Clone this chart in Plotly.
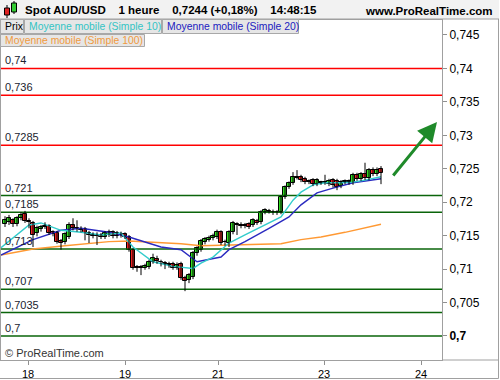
import plotly.graph_objects as go

# ---------------- data ----------------
opens = [0.7167,0.7170,0.7173,0.7167,0.7176,0.7182,0.7172,0.7169,0.7154,0.7160,
         0.7163,0.7164,0.7155,0.7154,0.7142,0.7140,0.7148,0.7166,0.7161,0.7158,
         0.7160,0.7154,0.7151,0.7150,0.7151,0.7148,0.7151,0.7155,0.7154,0.7152,
         0.7152,0.7148,0.7129,0.7102,0.7103,0.7102,0.7103,0.7111,0.7115,0.7111,
         0.7109,0.7108,0.7108,0.7102,0.7108,0.7087,0.7084,0.7088,0.7124,0.7129,
         0.7141,0.7144,0.7147,0.7148,0.7155,0.7141,0.7139,0.7155,0.7166,0.7166,
         0.7165,0.7167,0.7166,0.7172,0.7170,0.7185,0.7187,0.7186,0.7184,0.7185,
         0.7208,0.7223,0.7229,0.7238,0.7238,0.7235,0.7230,0.7233,0.7227,0.7229,
         0.7229,0.7227,0.7233,0.7232,0.7224,0.7230,0.7231,0.7229,0.7241,0.7235,
         0.7242,0.7236,0.7248,0.7242,0.7250]
highs = [0.7179,0.7181,0.7176,0.7179,0.7185,0.7187,0.7176,0.7172,0.7165,0.7166,
         0.7170,0.7167,0.7158,0.7157,0.7145,0.7155,0.7170,0.7176,0.7173,0.7164,
         0.7163,0.7157,0.7155,0.7155,0.7154,0.7157,0.7159,0.7158,0.7157,0.7156,
         0.7155,0.7151,0.7131,0.7106,0.7106,0.7108,0.7114,0.7123,0.7120,0.7114,
         0.7112,0.7111,0.7111,0.7110,0.7111,0.7090,0.7094,0.7127,0.7134,0.7145,
         0.7148,0.7150,0.7153,0.7159,0.7158,0.7144,0.7158,0.7172,0.7170,0.7170,
         0.7169,0.7170,0.7176,0.7175,0.7188,0.7191,0.7190,0.7189,0.7188,0.7210,
         0.7225,0.7231,0.7245,0.7248,0.7241,0.7238,0.7234,0.7236,0.7236,0.7232,
         0.7241,0.7235,0.7236,0.7235,0.7233,0.7234,0.7234,0.7244,0.7244,0.7245,
         0.7259,0.7251,0.7252,0.7252,0.7254]
lows = [0.7163,0.7166,0.7163,0.7164,0.7173,0.7169,0.7161,0.7133,0.7149,0.7156,
        0.7160,0.7151,0.7149,0.7138,0.7129,0.7137,0.7145,0.7158,0.7156,0.7155,
        0.7143,0.7139,0.7146,0.7136,0.7145,0.7145,0.7148,0.7146,0.7146,0.7147,
        0.7145,0.7126,0.7099,0.7096,0.7091,0.7099,0.7100,0.7108,0.7108,0.7104,
        0.7100,0.7102,0.7099,0.7099,0.7084,0.7067,0.7079,0.7085,0.7120,0.7126,
        0.7137,0.7141,0.7143,0.7145,0.7136,0.7135,0.7133,0.7152,0.7151,0.7161,
        0.7161,0.7160,0.7163,0.7166,0.7167,0.7182,0.7183,0.7181,0.7181,0.7182,
        0.7205,0.7220,0.7226,0.7234,0.7230,0.7227,0.7227,0.7224,0.7224,0.7226,
        0.7226,0.7224,0.7222,0.7218,0.7221,0.7227,0.7226,0.7226,0.7232,0.7232,
        0.7233,0.7233,0.7239,0.7239,0.7227]
closes = [0.7173,0.7176,0.7167,0.7176,0.7181,0.7172,0.7170,0.7151,0.7161,0.7163,
          0.7164,0.7154,0.7152,0.7141,0.7139,0.7152,0.7166,0.7161,0.7160,0.7160,
          0.7154,0.7151,0.7150,0.7151,0.7148,0.7154,0.7155,0.7150,0.7150,0.7151,
          0.7148,0.7129,0.7102,0.7103,0.7102,0.7105,0.7111,0.7117,0.7112,0.7110,
          0.7108,0.7106,0.7102,0.7106,0.7087,0.7082,0.7091,0.7124,0.7132,0.7142,
          0.7145,0.7147,0.7150,0.7155,0.7139,0.7140,0.7155,0.7169,0.7167,0.7164,
          0.7165,0.7163,0.7173,0.7169,0.7185,0.7188,0.7186,0.7184,0.7185,0.7208,
          0.7223,0.7229,0.7238,0.7237,0.7233,0.7230,0.7231,0.7227,0.7233,0.7229,
          0.7230,0.7232,0.7226,0.7223,0.7230,0.7231,0.7230,0.7241,0.7235,0.7242,
          0.7236,0.7248,0.7242,0.7248,0.7244]
bar_idx = list(range(len(closes)))

ma10_idx = [-1, 6, 9, 14, 19, 24, 29, 32, 37, 42, 47, 49, 52, 56, 60, 64, 69, 72, 74, 77, 80, 84, 87, 90, 94]
ma10_val = [0.7132, 0.7166, 0.7169, 0.7158, 0.7155, 0.7151, 0.7154, 0.7133, 0.7111, 0.7104, 0.7101, 0.7109,
            0.7118, 0.7139, 0.7151, 0.7163, 0.7178, 0.7203, 0.7215, 0.7226, 0.7229, 0.7229, 0.7230, 0.7233, 0.7238]

ma20_idx = [-1, 7, 14, 19, 26, 31, 39, 44, 48, 51, 54, 56, 60, 66, 71, 74, 78, 82, 87, 94]
ma20_val = [0.7121, 0.7144, 0.7158, 0.7161, 0.7155, 0.7148, 0.7133, 0.7129, 0.7111, 0.7114, 0.7118, 0.7129,
            0.7141, 0.7161, 0.7178, 0.7196, 0.7214, 0.7221, 0.7229, 0.7235]

ma100_idx = [-1, 7, 15, 26, 31, 44, 49, 56, 69, 74, 79, 85, 94]
ma100_val = [0.7121, 0.7130, 0.7135, 0.7141, 0.7142, 0.7138, 0.7135, 0.7136, 0.7138, 0.7144, 0.7148, 0.7155, 0.7167]

resist_levels = [0.74, 0.736, 0.7285]
support_levels = [0.721, 0.7185, 0.713, 0.707, 0.7035, 0.7]

y_ticks = [0.7, 0.705, 0.71, 0.715, 0.72, 0.725, 0.73, 0.735, 0.74, 0.745]
day_labels = ["18", "19", "21", "23", "24"]
day_tick_idx = [5.75, 30, 53.25, 79.75, 104]

def fr(v):
    s = ("%.4f" % v).rstrip("0").rstrip(".")
    return s.replace(".", ",")

# ---------------- figure ----------------
fig = go.Figure()

W, H = 500, 380
ML, MR, MT, MB = 1, 58, 20, 20
PW, PH = W - ML - MR, H - MT - MB
FONT = "Arial, Liberation Sans, sans-serif"

def px(x):
    return (x - ML) / PW

def py(y):
    return (H - MB - y) / PH

for lv in resist_levels:
    fig.add_trace(go.Scatter(x=[-1, 109.25], y=[lv, lv], mode="lines",
                             line=dict(color="#ff0000", width=1.5), hoverinfo="skip"))
for lv in support_levels:
    fig.add_trace(go.Scatter(x=[-1, 109.25], y=[lv, lv], mode="lines",
                             line=dict(color="#0a640a", width=1.5), hoverinfo="skip"))

fig.add_trace(go.Scatter(x=ma100_idx, y=ma100_val, mode="lines", line=dict(color="#ff9933", width=1.4)))
fig.add_trace(go.Scatter(x=ma20_idx, y=ma20_val, mode="lines", line=dict(color="#2a2ac0", width=1.4)))
fig.add_trace(go.Scatter(x=ma10_idx, y=ma10_val, mode="lines", line=dict(color="#33cccc", width=1.4)))

# wicks
wx, wy = [], []
for i, h, l in zip(bar_idx, highs, lows):
    wx += [i, i, None]
    wy += [l, h, None]
fig.add_trace(go.Scatter(x=wx, y=wy, mode="lines", line=dict(color="#000000", width=1), hoverinfo="skip"))

# bodies
MIN_BODY = 0.00012
for up, col in [(True, "#33dd22"), (False, "#ee2222")]:
    xs, base, hgt = [], [], []
    for i, o, c in zip(bar_idx, opens, closes):
        if (c >= o) == up:
            xs.append(i)
            if abs(c - o) >= MIN_BODY:
                base.append(min(o, c))
                hgt.append(abs(c - o))
            else:
                base.append((o + c) / 2 - MIN_BODY / 2)
                hgt.append(MIN_BODY)
    fig.add_trace(go.Bar(x=xs, y=hgt, base=base, width=0.95,
                         marker=dict(color=col, line=dict(color="#000", width=1))))

annotations = []
for lv in resist_levels + support_levels:
    annotations.append(dict(x=0.005, xref="paper", y=lv, yref="y", text=fr(lv), showarrow=False,
                            xanchor="left", yanchor="bottom", yshift=0,
                            font=dict(family=FONT, size=11, color="#1a2430")))

# trend arrow
annotations.append(dict(x=108, y=0.7320, xref="x", yref="y", ax=96.75, ay=0.72377, axref="x", ayref="y",
                        showarrow=True, arrowhead=2, arrowsize=1.3, arrowwidth=3, arrowcolor="#1f8a2a", text=""))

# header texts
annotations.append(dict(x=px(23), y=py(10), xref="paper", yref="paper", xanchor="left", yanchor="middle",
                        showarrow=False,
                        text="<b>Spot AUD/USD&nbsp;&nbsp;&nbsp;&nbsp;1 heure&nbsp;&nbsp;&nbsp;&nbsp;0,7244 (+0,18%)&nbsp;&nbsp;&nbsp;&nbsp;14:48:15</b>",
                        font=dict(family=FONT, size=11.5, color="#000000")))
annotations.append(dict(x=px(495), y=py(11), xref="paper", yref="paper", xanchor="right", yanchor="middle",
                        showarrow=False, text="<b>www.ProRealTime.com</b>",
                        font=dict(family=FONT, size=11.5, color="#000000")))

legend_boxes = [("Prix", 0, 24, 19, 34, "#000000"),
                ("Moyenne mobile (Simple 10)", 24, 162, 19, 34, "#33c4c4"),
                ("Moyenne mobile (Simple 20)", 162, 299, 19, 34, "#2020c0"),
                ("Moyenne mobile (Simple 100)", 0, 145, 34, 47, "#f09a40")]

shapes = []
shapes.append(dict(type="rect", xref="paper", yref="paper", x0=px(0), x1=px(499), y0=py(0), y1=py(19),
                   fillcolor="#f2f2f2", line=dict(width=0), layer="below"))
shapes.append(dict(type="line", xref="paper", yref="paper", x0=px(0), x1=px(499), y0=py(19), y1=py(19),
                   line=dict(color="#a0a0a0", width=1)))
shapes.append(dict(type="line", xref="paper", yref="paper", x0=px(498.5), x1=px(498.5), y0=py(19), y1=py(378.5),
                   line=dict(color="#a0a0a0", width=1)))
shapes.append(dict(type="line", xref="paper", yref="paper", x0=px(0), x1=px(498.5), y0=py(378.5), y1=py(378.5),
                   line=dict(color="#a0a0a0", width=1)))
shapes.append(dict(type="line", xref="paper", yref="paper", x0=px(442), x1=px(498.5), y0=py(360), y1=py(360),
                   line=dict(color="#a0a0a0", width=1)))

for txt, x0, x1, y0, y1, col in legend_boxes:
    shapes.append(dict(type="rect", xref="paper", yref="paper", x0=px(x0 + 0.5), x1=px(x1 - 0.5),
                       y0=py(y0 + 0.5), y1=py(y1 - 0.5), fillcolor="#e6e6e6",
                       line=dict(color="#a8a8a8", width=1)))
    annotations.append(dict(x=px(x0 + 2.5), y=py((y0 + y1) / 2), xref="paper", yref="paper", xanchor="left",
                            yanchor="middle", showarrow=False, text=txt,
                            font=dict(family=FONT, size=10.4, color=col)))

shapes += [
    dict(type="line", xref="paper", yref="paper", x0=px(7), x1=px(7), y0=py(5), y1=py(18), line=dict(color="#000", width=1)),
    dict(type="rect", xref="paper", yref="paper", x0=px(4.5), x1=px(9.5), y0=py(8), y1=py(15), fillcolor="#dd2222",
         line=dict(color="#000", width=1)),
    dict(type="line", xref="paper", yref="paper", x0=px(14), x1=px(14), y0=py(1), y1=py(14), line=dict(color="#000", width=1)),
    dict(type="rect", xref="paper", yref="paper", x0=px(11.5), x1=px(16.5), y0=py(3), y1=py(12), fillcolor="#33cc33",
         line=dict(color="#000", width=1)),
]

annotations.append(dict(x=px(3), y=py(353), xref="paper", yref="paper", xanchor="left", yanchor="middle",
                        showarrow=False, text="© ProRealTime.com",
                        font=dict(family=FONT, size=11, color="#333333")))

y_ticktext = ["<b>0,7</b>" if v == 0.7 else fr(v) for v in y_ticks]

fig.update_layout(
    width=W, height=H, margin=dict(l=ML, r=MR, t=MT, b=MB, autoexpand=False),
    paper_bgcolor="#ffffff", plot_bgcolor="#ffffff",
    showlegend=False, shapes=shapes, annotations=annotations, bargap=0,
    font=dict(family=FONT, size=11, color="#000"),
    xaxis=dict(range=[-1, 109.25], tickmode="array", tickvals=day_tick_idx, ticktext=day_labels,
               ticks="outside", ticklen=4, tickcolor="#909090", showgrid=False, zeroline=False,
               showline=True, linecolor="#a0a0a0", mirror=True, automargin=False,
               tickfont=dict(size=11, color="#000")),
    yaxis=dict(range=[0.69641, 0.74724], side="right", tickmode="array", tickvals=y_ticks,
               ticktext=y_ticktext, ticks="outside", ticklen=4, tickcolor="#909090", showgrid=False,
               zeroline=False, showline=True, linecolor="#a0a0a0", mirror=True, automargin=False,
               tickfont=dict(size=12, color="#000")),
)

fig.write_html("out.html")
